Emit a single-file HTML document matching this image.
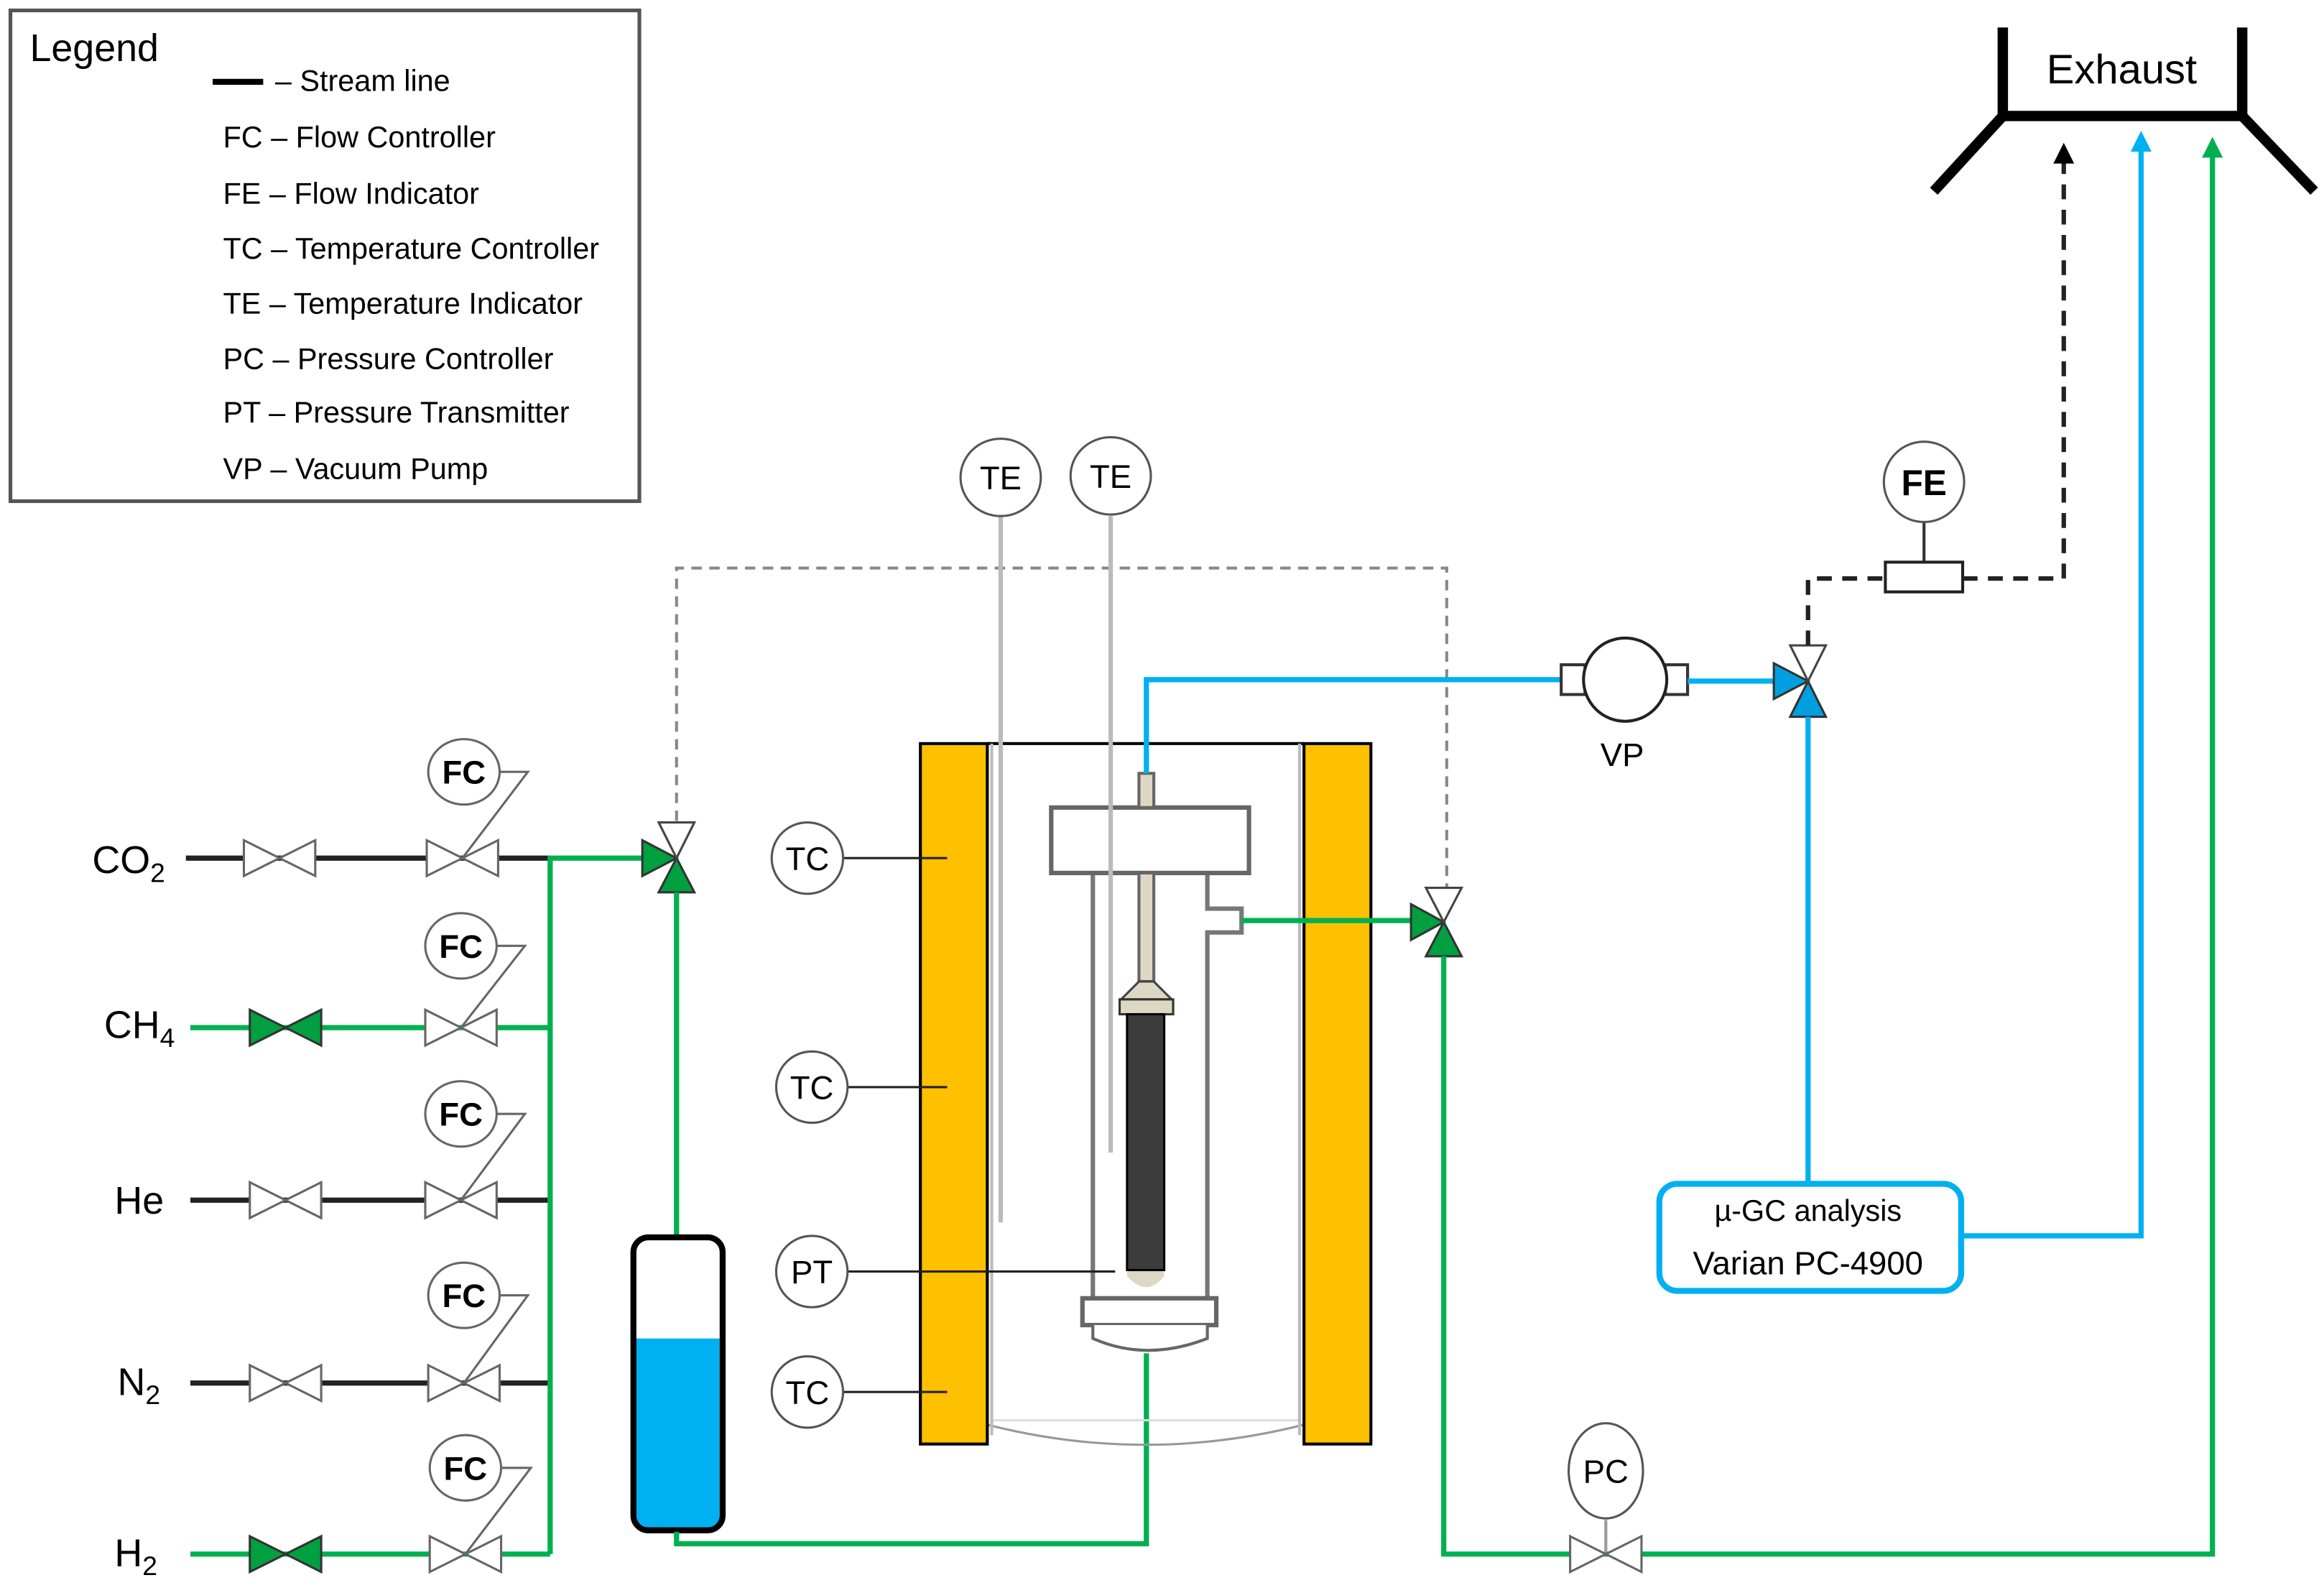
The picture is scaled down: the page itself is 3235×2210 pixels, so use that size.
<!DOCTYPE html>
<html><head><meta charset="utf-8"><style>
html,body{margin:0;padding:0;background:#fff;}
svg{display:block;}
text{font-family:"Liberation Sans",sans-serif;fill:#000;}
</style></head><body>
<svg width="3235" height="2210" viewBox="0 0 1563 1067.8" xmlns="http://www.w3.org/2000/svg">
<defs>
<g id="gv"><polygon points="-24,-12 0,0 -24,12" fill="#fff" stroke="#666" stroke-width="1.5"/><polygon points="24,-12 0,0 24,12" fill="#fff" stroke="#666" stroke-width="1.5"/></g>
<g id="gvg"><polygon points="-24,-12 0,0 -24,12" fill="#00a040" stroke="#333" stroke-width="1.5"/><polygon points="24,-12 0,0 24,12" fill="#00a040" stroke="#333" stroke-width="1.5"/></g>
</defs>
<!-- Legend -->
<rect x="7" y="7" width="423" height="330" fill="#fff" stroke="#555" stroke-width="2.5"/>
<text x="20" y="41" font-size="26">Legend</text>
<line x1="143" y1="55" x2="177" y2="55" stroke="#000" stroke-width="4"/>
<g font-size="20">
<text x="185" y="61">– Stream line</text>
<text x="150" y="99">FC – Flow Controller</text>
<text x="150" y="137">FE – Flow Indicator</text>
<text x="150" y="174">TC – Temperature Controller</text>
<text x="150" y="211">TE – Temperature Indicator</text>
<text x="150" y="248">PC – Pressure Controller</text>
<text x="150" y="284">PT – Pressure Transmitter</text>
<text x="150" y="322">VP – Vacuum Pump</text>
</g>
<!-- Exhaust -->
<g stroke="#000" stroke-width="7" fill="none" stroke-linecap="square">
<polyline points="1347,22 1347,78 1508,78 1508,22"/>
<line x1="1347" y1="78" x2="1303" y2="126"/>
<line x1="1508" y1="78" x2="1554" y2="126"/>
</g>
<text x="1427" y="56" font-size="28" text-anchor="middle">Exhaust</text>
<!-- gas lines -->
<g font-size="26">
<text x="62" y="587">CO<tspan font-size="18" dy="6">2</tspan></text>
<text x="70" y="698">CH<tspan font-size="18" dy="6">4</tspan></text>
<text x="77" y="816">He</text>
<text x="79" y="938">N<tspan font-size="18" dy="6">2</tspan></text>
<text x="77" y="1053">H<tspan font-size="18" dy="6">2</tspan></text>
</g>
<g stroke-width="3.5" fill="none">
<line x1="125" y1="577" x2="370" y2="577" stroke="#222"/>
<line x1="128" y1="691" x2="370" y2="691" stroke="#00b050"/>
<line x1="128" y1="807" x2="370" y2="807" stroke="#222"/>
<line x1="128" y1="930" x2="370" y2="930" stroke="#222"/>
<line x1="128" y1="1045" x2="370" y2="1045" stroke="#00b050"/>
<polyline points="370,1045 370,577 432,577" stroke="#00b050"/>
</g>
<use href="#gv" x="188" y="577"/><use href="#gvg" x="192" y="691"/><use href="#gv" x="192" y="807"/><use href="#gv" x="192" y="930"/><use href="#gvg" x="192" y="1045"/>
<g>
<use href="#gv" x="311" y="577"/><use href="#gv" x="310" y="691"/><use href="#gv" x="310" y="807"/><use href="#gv" x="312" y="930"/><use href="#gv" x="313" y="1045"/>
</g>
<g stroke="#666" stroke-width="1.5" fill="#fff">
<polyline points="336,519 355,519 311,577" fill="none"/>
<ellipse cx="312" cy="519" rx="24" ry="22"/>
<polyline points="334,636 353,636 310,691" fill="none"/>
<ellipse cx="310" cy="636" rx="24" ry="22"/>
<polyline points="334,749 353,749 310,807" fill="none"/>
<ellipse cx="310" cy="749" rx="24" ry="22"/>
<polyline points="336,871 355,871 312,930" fill="none"/>
<ellipse cx="312" cy="871" rx="24" ry="22"/>
<polyline points="337,987 357,987 313,1045" fill="none"/>
<ellipse cx="313" cy="987" rx="24" ry="22"/>
</g>
<g font-size="22" font-weight="bold" text-anchor="middle">
<text x="312" y="527">FC</text><text x="310" y="644">FC</text><text x="310" y="757">FC</text><text x="312" y="879">FC</text><text x="313" y="995">FC</text>
</g>
<!-- dashed grey control -->
<polyline points="455,552 455,382 973,382 973,597" fill="none" stroke="#888" stroke-width="2" stroke-dasharray="7,5"/>
<!-- 3-way valve 1 -->
<polygon points="432,565 455,577 432,589" fill="#00a040" stroke="#333" stroke-width="1.5"/>
<polygon points="443,600 455,577 467,600" fill="#00a040" stroke="#333" stroke-width="1.5"/>
<polygon points="443,553 467,553 455,577" fill="#fff" stroke="#444" stroke-width="1.5"/>
<polyline points="455,600 455,833" stroke="#00b050" stroke-width="3.5" fill="none"/>
<!-- saturator -->
<path d="M427,900 L484,900 L484,1018 Q484,1029 473,1029 L438,1029 Q427,1029 427,1018 Z" fill="#00b0f0"/>
<rect x="426" y="832" width="60" height="197" rx="10" fill="none" stroke="#000" stroke-width="4"/>
<polyline points="455,1030 455,1038 771,1038 771,910" stroke="#00b050" stroke-width="3.5" fill="none"/>
<!-- furnace -->
<path d="M664,958 Q770,985 877,958" fill="none" stroke="#999" stroke-width="1.5"/>
<line x1="664" y1="500" x2="877" y2="500" stroke="#000" stroke-width="2"/>
<line x1="666" y1="955" x2="875" y2="955" stroke="#ddd" stroke-width="1.5"/>
<line x1="667" y1="500" x2="667" y2="965" stroke="#bbb" stroke-width="2"/>
<line x1="874" y1="500" x2="874" y2="965" stroke="#bbb" stroke-width="2"/>
<rect x="619" y="500" width="45" height="471" fill="#ffc000" stroke="#000" stroke-width="2"/>
<rect x="877" y="500" width="45" height="471" fill="#ffc000" stroke="#000" stroke-width="2"/>
<!-- TE lines -->
<line x1="673" y1="347" x2="673" y2="822" stroke="#bbb" stroke-width="3"/>
<!-- reactor -->
<line x1="735" y1="587" x2="735" y2="873" stroke="#777" stroke-width="3"/>
<polyline points="812,587 812,611 835,611 835,627 812,627 812,873" fill="none" stroke="#777" stroke-width="3"/>
<rect x="707" y="543" width="133" height="44" fill="#fff" stroke="#666" stroke-width="3"/>
<rect x="766" y="520" width="10" height="23" fill="#ddd8c4" stroke="#666" stroke-width="2"/>
<rect x="766" y="587" width="10" height="73" fill="#ddd8c4" stroke="#666" stroke-width="2"/>
<polygon points="766,660 776,660 788,672 754,672" fill="#ddd8c4" stroke="#444" stroke-width="1.5"/>
<rect x="753" y="672" width="36" height="10" fill="#ddd8c4" stroke="#333" stroke-width="1.5"/>
<path d="M758,682 L783,682 L783,858 Q771,873 758,858 Z" fill="#ddd8c4"/>
<rect x="758" y="682" width="25" height="172" fill="#3c3c3c" stroke="#000" stroke-width="1.5"/>
<line x1="747" y1="347" x2="747" y2="775" stroke="#bbb" stroke-width="3"/>
<rect x="728" y="873" width="90" height="18" fill="#fff" stroke="#666" stroke-width="3"/>
<path d="M735,891 L735,900 Q771,916 812,900 L812,891" fill="#fff" stroke="#666" stroke-width="2"/>
<!-- blue line from reactor -->
<polyline points="771,520 771,457 1050,457" fill="none" stroke="#00b0f0" stroke-width="3.5"/>
<!-- green from side port -->
<line x1="835" y1="619" x2="949" y2="619" stroke="#00b050" stroke-width="3.5"/>
<!-- TC / PT -->
<g stroke="#222" stroke-width="1.5">
<line x1="567" y1="577" x2="637" y2="577"/><line x1="570" y1="731" x2="637" y2="731"/><line x1="570" y1="855" x2="750" y2="855"/><line x1="567" y1="936" x2="637" y2="936"/>
</g>
<g fill="#fff" stroke="#555" stroke-width="1.5">
<circle cx="543" cy="577" r="24"/><circle cx="546" cy="731" r="24"/><circle cx="546" cy="855" r="24"/><circle cx="543" cy="936" r="24"/>
<ellipse cx="673" cy="321" rx="27" ry="26"/><ellipse cx="747" cy="320" rx="27" ry="26"/>
</g>
<g font-size="22" text-anchor="middle">
<text x="543" y="585">TC</text><text x="546" y="739">TC</text><text x="546" y="863">PT</text><text x="543" y="944">TC</text>
<text x="673" y="329">TE</text><text x="747" y="328">TE</text>
</g>
<!-- 3-way valve 2 -->
<polygon points="949,608 971,620 949,632" fill="#00a040" stroke="#333" stroke-width="1.5"/>
<polygon points="959,643 971,620 983,643" fill="#00a040" stroke="#333" stroke-width="1.5"/>
<polygon points="959,597 983,597 971,620" fill="#fff" stroke="#444" stroke-width="1.5"/>
<polyline points="971,643 971,1045 1488,1045 1488,104" fill="none" stroke="#00b050" stroke-width="3.5"/>
<polygon points="1488,92 1481,106 1495,106" fill="#00b050"/>
<!-- PC -->
<line x1="1080" y1="1022" x2="1080" y2="1045" stroke="#999" stroke-width="2"/>
<use href="#gv" x="1080" y="1045"/>
<ellipse cx="1080" cy="989" rx="25" ry="32" fill="#fff" stroke="#555" stroke-width="1.5"/>
<text x="1080" y="997" font-size="22" text-anchor="middle">PC</text>
<!-- VP -->
<rect x="1050" y="447" width="16" height="20" fill="#fff" stroke="#333" stroke-width="2"/>
<rect x="1120" y="447" width="15" height="20" fill="#fff" stroke="#333" stroke-width="2"/>
<circle cx="1093" cy="457" r="28" fill="#fff" stroke="#222" stroke-width="2"/>
<text x="1091" y="515" font-size="22" text-anchor="middle">VP</text>
<line x1="1135" y1="458" x2="1193" y2="458" stroke="#00b0f0" stroke-width="3.5"/>
<!-- 3-way valve 3 -->
<polygon points="1193,446 1216,458 1193,470" fill="#00a0e0" stroke="#333" stroke-width="1.5"/>
<polygon points="1204,482 1216,458 1228,482" fill="#00a0e0" stroke="#333" stroke-width="1.5"/>
<polygon points="1204,434 1228,434 1216,458" fill="#fff" stroke="#444" stroke-width="1.5"/>
<line x1="1216" y1="482" x2="1216" y2="795" stroke="#00b0f0" stroke-width="3.5"/>
<!-- GC box -->
<rect x="1116" y="796" width="203" height="72" rx="12" fill="#fff" stroke="#00b0f0" stroke-width="4"/>
<text x="1216" y="821" font-size="20" text-anchor="middle">µ-GC analysis</text>
<text x="1216" y="857" font-size="22" text-anchor="middle">Varian PC-4900</text>
<polyline points="1319,831 1440,831 1440,100" fill="none" stroke="#00b0f0" stroke-width="3.5"/>
<polygon points="1440,88 1433,102 1447,102" fill="#00b0f0"/>
<!-- dashed black -->
<polyline points="1216,434 1216,389 1268,389" fill="none" stroke="#222" stroke-width="3" stroke-dasharray="10,7"/>
<polyline points="1320,389 1388,389 1388,108" fill="none" stroke="#222" stroke-width="3" stroke-dasharray="10,7"/>
<polygon points="1388,96 1381,110 1395,110" fill="#000"/>
<!-- FE -->
<line x1="1294" y1="351" x2="1294" y2="378" stroke="#333" stroke-width="2"/>
<rect x="1268" y="378" width="52" height="20" fill="#fff" stroke="#222" stroke-width="2"/>
<circle cx="1294" cy="324" r="27" fill="#fff" stroke="#555" stroke-width="1.5"/>
<text x="1294" y="333" font-size="24" font-weight="bold" text-anchor="middle">FE</text>
</svg>
</body></html>
